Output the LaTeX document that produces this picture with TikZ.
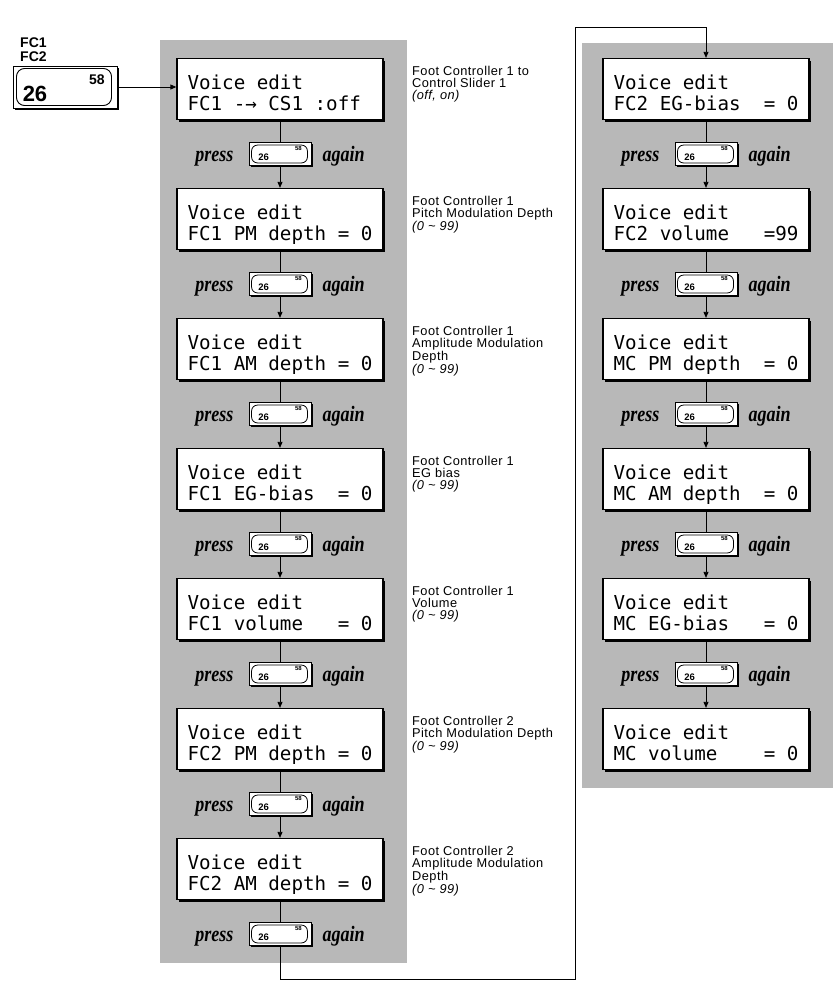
\documentclass[tikz,border=0pt]{standalone}
\usepackage{fontspec}
\setmainfont{Liberation Serif}
\setsansfont{Liberation Sans}
\newfontfamily\lcdfont[WordSpace={1,0,0}]{DejaVu Sans Mono}
\newfontfamily\notefont[LetterSpace=3.5]{Liberation Sans}
\usetikzlibrary{arrows.meta,shadows}
\newcommand\pressrow[3]{%
  \node[btn] (#1) at (#2,#3) {};
  \draw[btninner] ([shift={(3,3)}]#1.north west) rectangle ([shift={(-4,-3)}]#1.south east);
  \node[n26] (#1-a) at ([shift={(15,3)}]#1.west) {26};
  \node[n58] (#1-b) at ([shift={(-13,6)}]#1.north east) {58};
  \node[presstxt, anchor=base east] (#1-p) at ([xshift=-15pt,yshift=-7pt]#1.west) {\scalebox{0.82}[1]{press}};
  \node[presstxt, anchor=base west] (#1-g) at ([xshift=11pt,yshift=-7pt]#1.east) {\scalebox{0.82}[1]{again}};
}
\begin{document}
\begin{tikzpicture}[x=1pt,y=-1pt,
  panel/.style={fill=black!28},
  lcd/.style={draw, line width=1.3pt, fill=white, minimum width=206pt, minimum height=61pt,
    inner sep=0pt, align=left, text depth=0pt, text height=42pt,
    font=\lcdfont\fontsize{19.2}{21}\selectfont,
    drop shadow={shadow xshift=2.2pt, shadow yshift=-2.2pt, fill=black, opacity=1}},
  btn/.style={draw, line width=0.9pt, fill=white, minimum width=62pt, minimum height=23pt, inner sep=0pt,
    drop shadow={shadow xshift=1.6pt, shadow yshift=-1.6pt, fill=black, opacity=1}},
  btninner/.style={line width=0.8pt, rounded corners=6pt},
  n26/.style={inner sep=0pt, font=\sffamily\bfseries\fontsize{9.5}{10}\selectfont},
  n58/.style={inner sep=0pt, font=\sffamily\bfseries\fontsize{6}{7}\selectfont},
  presstxt/.style={inner sep=0pt, font=\bfseries\itshape\fontsize{22}{22}\selectfont},
  note/.style={anchor=north west, align=left, inner sep=0pt, font=\notefont\fontsize{12.8}{11.8}\selectfont},
  conn/.style={line width=0.8pt},
  arr/.style={line width=0.8pt, -{Triangle[length=6pt,width=5pt]}}
]
\useasboundingbox (0,0) rectangle (839,1002);
\fill[white] (0,0) rectangle (839,1002);
% panels
\fill[panel] (160,40) rectangle (407,963);
\fill[panel] (582,43) rectangle (833,788);

% FC button top-left
\node[anchor=west, inner sep=0pt, font=\sffamily\bfseries\fontsize{14}{14}\selectfont] (fc1) at (20,43) {FC1};
\node[anchor=west, inner sep=0pt, font=\sffamily\bfseries\fontsize{14}{14}\selectfont] (fc2) at (20,57) {FC2};
\node[draw, line width=1pt, fill=white, minimum width=104pt, minimum height=42pt, inner sep=0pt,
  drop shadow={shadow xshift=2pt, shadow yshift=-2pt, fill=black, opacity=1}] (fcb) at (65,87) {};
\draw[line width=0.9pt, rounded corners=8pt] ([shift={(4,3)}]fcb.north west) rectangle ([shift={(-6,-3)}]fcb.south east);
\node[inner sep=0pt, font=\sffamily\bfseries\fontsize{22}{22}\selectfont] (fcb-a) at (35,94) {26};
\node[inner sep=0pt, font=\sffamily\bfseries\fontsize{14}{14}\selectfont] (fcb-b) at (97,80) {58};

% left column
\node[lcd] (L1) at (280,89)  {Voice edit\\FC1 -→ CS1 :off\hphantom{0}};
\node[lcd] (L2) at (280,219) {Voice edit\\FC1 PM depth = 0};
\node[lcd] (L3) at (280,349) {Voice edit\\FC1 AM depth = 0};
\node[lcd] (L4) at (280,479) {Voice edit\\FC1 EG-bias~~=~0};
\node[lcd] (L5) at (280,609) {Voice edit\\FC1 volume~~~=~0};
\node[lcd] (L6) at (280,739) {Voice edit\\FC2 PM depth = 0};
\node[lcd] (L7) at (280,869) {Voice edit\\FC2 AM depth = 0};

\pressrow{LB1}{280}{154}
\pressrow{LB2}{280}{284}
\pressrow{LB3}{280}{414}
\pressrow{LB4}{280}{544}
\pressrow{LB5}{280}{674}
\pressrow{LB6}{280}{804}
\pressrow{LB7}{280}{934}

% right column
\node[lcd] (R1) at (706,89)  {Voice edit\\FC2 EG-bias~~=~0};
\node[lcd] (R2) at (706,219) {Voice edit\\FC2 volume~~~=99};
\node[lcd] (R3) at (706,349) {Voice edit\\MC PM depth~~=~0};
\node[lcd] (R4) at (706,479) {Voice edit\\MC AM depth~~=~0};
\node[lcd] (R5) at (706,609) {Voice edit\\MC EG-bias~~~=~0};
\node[lcd] (R6) at (706,739) {Voice edit\\MC volume~~~~=~0};

\pressrow{RB1}{706}{154}
\pressrow{RB2}{706}{284}
\pressrow{RB3}{706}{414}
\pressrow{RB4}{706}{544}
\pressrow{RB5}{706}{674}

% annotations
\node[note] (A1) at (412,66) {Foot Controller 1 to\\Control Slider 1\\\textit{(off, on)}};
\node[note] (A2) at (412,196) {Foot Controller 1\\Pitch Modulation Depth\\\textit{(0 \textasciitilde\ 99)}};
\node[note] (A3) at (412,326) {Foot Controller 1\\Amplitude Modulation\\Depth\\\textit{(0 \textasciitilde\ 99)}};
\node[note] (A4) at (412,456) {Foot Controller 1\\EG bias\\\textit{(0 \textasciitilde\ 99)}};
\node[note] (A5) at (412,586) {Foot Controller 1\\Volume\\\textit{(0 \textasciitilde\ 99)}};
\node[note] (A6) at (412,716) {Foot Controller 2\\Pitch Modulation Depth\\\textit{(0 \textasciitilde\ 99)}};
\node[note] (A7) at (412,846) {Foot Controller 2\\Amplitude Modulation\\Depth\\\textit{(0 \textasciitilde\ 99)}};

% connectors
\draw[arr] (fcb.east) -- (L1.west |- fcb.east);
\foreach \i/\j in {1/2,2/3,3/4,4/5,5/6,6/7} {
  \draw[conn] (L\i.south) -- (LB\i.north);
  \draw[arr] (LB\i.south) -- (L\j.north);
}
\draw[conn] (L7.south) -- (LB7.north);
\foreach \i/\j in {1/2,2/3,3/4,4/5,5/6} {
  \draw[conn] (R\i.south) -- (RB\i.north);
  \draw[arr] (RB\i.south) -- (R\j.north);
}
\coordinate (tA) at (575,979);
\coordinate (tB) at (575,27);
\draw[arr] (LB7.south) |- (tA) -- (tB) -| (R1.north);
\end{tikzpicture}
\end{document}
